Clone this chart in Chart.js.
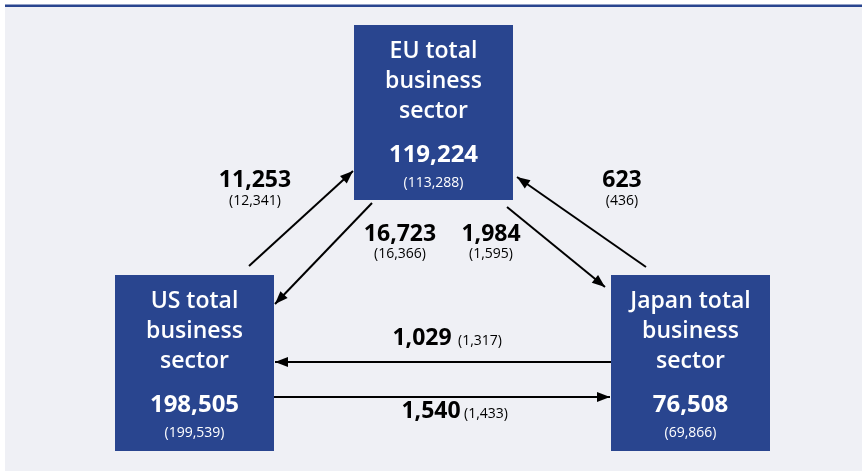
<!DOCTYPE html>
<html>
<head>
<meta charset="utf-8">
<script src="https://cdn.jsdelivr.net/npm/chart.js@4/dist/chart.umd.min.js"></script>
<style>
  html, body { margin: 0; padding: 0; background: #ffffff; }
  #wrap { width: 862px; height: 471px; position: relative; }
</style>
</head>
<body>
<div id="wrap"><canvas id="c1" width="862" height="471"></canvas></div>
<script>
(function(divId){
    // sectors and their R&D totals (previous period in brackets)
    var sectors = ['EU', 'US', 'Japan'];
    var sectorLabels = [['EU total', 'business', 'sector'], ['US total', 'business', 'sector'], ['Japan total', 'business', 'sector']];
    var sectorTotals = [119224, 198505, 76508];
    var sectorPrev = [113288, 199539, 69866];

    // flows between sectors
    var flowFrom = ['US', 'EU', 'EU', 'Japan', 'Japan', 'US'];
    var flowTo = ['EU', 'US', 'Japan', 'EU', 'US', 'Japan'];
    var flowValues = [11253, 16723, 1984, 623, 1029, 1540];
    var flowPrev = [12341, 16366, 1595, 436, 1317, 1433];

    // layout (canvas units) - kept apart from the data
    var boxes = {
        EU: [354, 25, 513, 200],
        US: [115, 275, 274, 451],
        Japan: [611, 275, 770, 451]
    };
    var arrows = [
        [249, 266, 353, 171],
        [372, 203, 275, 304],
        [507, 207, 605, 287],
        [646, 267, 517, 177],
        [611, 362, 275, 362],
        [274, 397, 610, 397]
    ];
    // [x, baseline y, x of bracket value, baseline y of bracket value]; bracket x null => below, centred
    var flowLabelPos = [
        [255, 187, null, 205],
        [400, 241, null, 258],
        [491, 241, null, 258],
        [622, 187, null, 205],
        [422, 345, 458, 345],
        [431, 418, 464, 418]
    ];

    var blue = '#29458f';
    var bg = '#eff0f5';
    var fmt = (v) => v.toLocaleString('en-US');

    var datasets = arrows.map((a, i) => ({
        type: 'scatter',
        label: flowFrom[i] + ' to ' + flowTo[i],
        data: [{x: a[0], y: a[1]}, {x: a[2], y: a[3]}],
        showLine: true,
        borderColor: '#000000',
        borderWidth: 2,
        pointRadius: 0
    }));

    var diagram = {
        id: 'diagram',
        beforeDraw: function(chart) {
            var ctx = chart.ctx;
            var x = chart.scales.x, y = chart.scales.y;
            ctx.save();
            ctx.fillStyle = '#ffffff';
            ctx.fillRect(0, 0, chart.width, chart.height);
            ctx.fillStyle = bg;
            ctx.fillRect(x.getPixelForValue(5), y.getPixelForValue(7), chart.width, chart.height);
            ctx.fillStyle = blue;
            ctx.fillRect(x.getPixelForValue(5), y.getPixelForValue(4.5), chart.width, 2.5);
            ctx.restore();
        },
        afterDatasetsDraw: function(chart) {
            var ctx = chart.ctx;
            var x = chart.scales.x, y = chart.scales.y;
            ctx.save();
            // arrow heads
            arrows.forEach((a) => {
                var x1 = x.getPixelForValue(a[0]), y1 = y.getPixelForValue(a[1]);
                var x2 = x.getPixelForValue(a[2]), y2 = y.getPixelForValue(a[3]);
                var ang = Math.atan2(y2 - y1, x2 - x1);
                var len = 13, half = 5;
                ctx.fillStyle = '#000000';
                ctx.beginPath();
                ctx.moveTo(x2, y2);
                ctx.lineTo(x2 - len * Math.cos(ang) + half * Math.sin(ang), y2 - len * Math.sin(ang) - half * Math.cos(ang));
                ctx.lineTo(x2 - len * Math.cos(ang) - half * Math.sin(ang), y2 - len * Math.sin(ang) + half * Math.cos(ang));
                ctx.closePath();
                ctx.fill();
            });
            // sector boxes
            sectors.forEach((s, i) => {
                var b = boxes[s];
                var l = x.getPixelForValue(b[0]), t = y.getPixelForValue(b[1]);
                var r = x.getPixelForValue(b[2]), btm = y.getPixelForValue(b[3]);
                ctx.fillStyle = blue;
                ctx.fillRect(l, t, r - l, btm - t);
                var cx = (l + r) / 2;
                ctx.fillStyle = '#ffffff';
                ctx.textAlign = 'center';
                ctx.textBaseline = 'alphabetic';
                ctx.font = '600 23px "Open Sans"';
                sectorLabels[i].forEach((line, k) => {
                    ctx.fillText(line, cx, t + 33 + k * 30);
                });
                ctx.font = '700 24px "Open Sans"';
                ctx.fillText(fmt(sectorTotals[i]), cx, t + 137);
                ctx.font = '400 14px "Open Sans"';
                ctx.fillText('(' + fmt(sectorPrev[i]) + ')', cx, t + 162);
            });
            // flow labels
            ctx.fillStyle = '#000000';
            flowValues.forEach((v, i) => {
                var p = flowLabelPos[i];
                var px = x.getPixelForValue(p[0]), py = y.getPixelForValue(p[1]);
                ctx.textBaseline = 'alphabetic';
                ctx.font = '700 23px "Open Sans"';
                ctx.textAlign = 'center';
                ctx.fillText(fmt(v), px, py);
                ctx.font = '400 14px "Open Sans"';
                if (p[2] === null) {
                    ctx.fillText('(' + fmt(flowPrev[i]) + ')', px, y.getPixelForValue(p[3]));
                } else {
                    ctx.textAlign = 'left';
                    ctx.fillText('(' + fmt(flowPrev[i]) + ')', x.getPixelForValue(p[2]), y.getPixelForValue(p[3]));
                }
            });
            ctx.restore();
        }
    };

    var options = {
        responsive: false,
        animation: false,
        layout: { padding: 0 },
        plugins: { legend: { display: false }, tooltip: { enabled: false } },
        scales: {
            x: { type: 'linear', min: 0, max: 862, display: false },
            y: { type: 'linear', min: 0, max: 471, reverse: true, display: false }
        }
    };

    var div = document.getElementById(divId);
    if (!div)
        return;

    var ctx = div.getContext("2d");
    var chart = new Chart(ctx, {
        type: 'scatter',
        data: { datasets: datasets },
        options: options,
        plugins: [diagram]
    });
})("c1");
</script>
</body>
</html>
